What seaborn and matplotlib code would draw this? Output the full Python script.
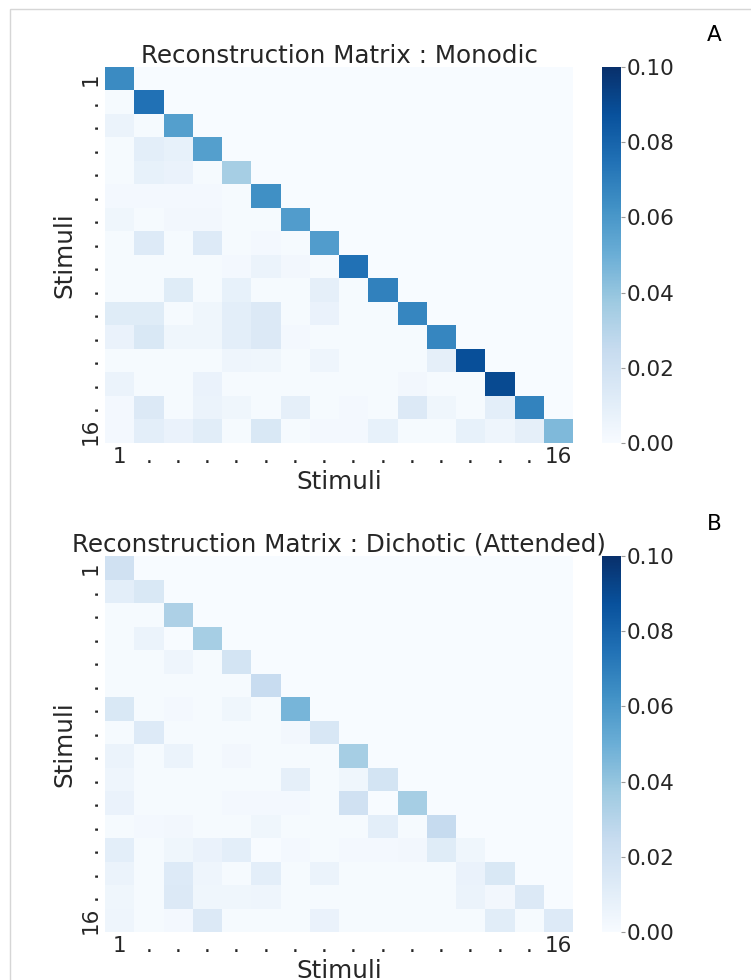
import numpy as np
import pandas as pd
import seaborn as sns
import matplotlib
matplotlib.use("Agg")
import matplotlib.pyplot as plt
from matplotlib.patches import Rectangle

# lower triangle of each reconstruction matrix (row i holds columns 1..i)
monodic_rows = [
    [0.065],
    [0.001, 0.075],
    [0.006, 0.001, 0.057],
    [0.001, 0.010, 0.008, 0.057],
    [0.001, 0.008, 0.007, 0.001, 0.035],
    [0.002, 0.002, 0.002, 0.002, 0.001, 0.063],
    [0.004, 0.001, 0.003, 0.003, 0.001, 0.001, 0.058],
    [0.001, 0.013, 0.001, 0.013, 0.001, 0.002, 0.001, 0.058],
    [0.001, 0.001, 0.001, 0.001, 0.002, 0.006, 0.003, 0.001, 0.075],
    [0.001, 0.001, 0.012, 0.001, 0.008, 0.001, 0.001, 0.009, 0.001, 0.069],
    [0.012, 0.012, 0.001, 0.004, 0.010, 0.014, 0.001, 0.007, 0.001, 0.001, 0.067],
    [0.007, 0.015, 0.004, 0.004, 0.010, 0.014, 0.002, 0.001, 0.001, 0.001, 0.001, 0.067],
    [0.001, 0.001, 0.001, 0.001, 0.005, 0.004, 0.001, 0.005, 0.001, 0.001, 0.001, 0.009, 0.088],
    [0.006, 0.001, 0.001, 0.007, 0.001, 0.001, 0.001, 0.001, 0.001, 0.001, 0.003, 0.001, 0.001, 0.090],
    [0.002, 0.014, 0.001, 0.006, 0.004, 0.001, 0.009, 0.001, 0.002, 0.001, 0.014, 0.004, 0.001, 0.010, 0.068],
    [0.002, 0.010, 0.007, 0.011, 0.001, 0.015, 0.001, 0.002, 0.002, 0.008, 0.001, 0.001, 0.008, 0.005, 0.009, 0.045],
]

dichotic_rows = [
    [0.020],
    [0.010, 0.015],
    [0.001, 0.001, 0.033],
    [0.001, 0.006, 0.000, 0.035],
    [0.001, 0.001, 0.005, 0.001, 0.018],
    [0.001, 0.001, 0.001, 0.001, 0.001, 0.024],
    [0.015, 0.001, 0.002, 0.001, 0.004, 0.001, 0.047],
    [0.001, 0.013, 0.001, 0.001, 0.001, 0.001, 0.003, 0.016],
    [0.006, 0.001, 0.006, 0.001, 0.003, 0.001, 0.001, 0.001, 0.035],
    [0.005, 0.001, 0.001, 0.001, 0.001, 0.001, 0.009, 0.001, 0.004, 0.018],
    [0.007, 0.001, 0.001, 0.001, 0.002, 0.002, 0.002, 0.001, 0.020, 0.000, 0.035],
    [0.001, 0.002, 0.003, 0.001, 0.001, 0.004, 0.001, 0.001, 0.001, 0.010, 0.001, 0.025],
    [0.010, 0.001, 0.004, 0.007, 0.010, 0.000, 0.002, 0.001, 0.002, 0.002, 0.003, 0.012, 0.004],
    [0.006, 0.001, 0.013, 0.005, 0.001, 0.010, 0.001, 0.006, 0.001, 0.001, 0.001, 0.001, 0.007, 0.015],
    [0.004, 0.001, 0.014, 0.004, 0.004, 0.005, 0.001, 0.001, 0.001, 0.001, 0.001, 0.001, 0.006, 0.003, 0.014],
    [0.005, 0.001, 0.002, 0.014, 0.001, 0.001, 0.001, 0.007, 0.001, 0.001, 0.001, 0.001, 0.001, 0.011, 0.001, 0.013],
]

tick_labels = ["1"] + ["."] * 14 + ["16"]
titles = ["Reconstruction Matrix : Monodic", "Reconstruction Matrix : Dichotic (Attended)"]
panel_letters = ["A", "B"]
cbar_ticks = [0.00, 0.02, 0.04, 0.06, 0.08, 0.10]


def to_matrix(rows):
    n = len(rows)
    m = np.zeros((n, n))
    for i, r in enumerate(rows):
        m[i, :len(r)] = r
    return pd.DataFrame(m, index=tick_labels, columns=tick_labels)


sns.set_theme(style="white")
plt.rcParams["font.family"] = ["DejaVu Sans"]
plt.rcParams["text.color"] = ".15"
plt.rcParams["axes.labelcolor"] = ".15"
plt.rcParams["xtick.color"] = ".15"
plt.rcParams["ytick.color"] = ".15"

W, H = 751, 980
fig = plt.figure(figsize=(W / 100, H / 100), dpi=100)

# thin frame of the screenshot
fig.add_artist(Rectangle((10 / W, -0.1), 1.2, 1 - 9 / H + 0.1, transform=fig.transFigure,
                         fill=False, edgecolor="#d6d6d6", lw=1))

tops = [67, 556]
for k, rows in enumerate([monodic_rows, dichotic_rows]):
    top = tops[k]
    ax = fig.add_axes([105 / W, 1 - (top + 376) / H, 468 / W, 376 / H])
    cax = fig.add_axes([602 / W, 1 - (top + 376) / H, 19 / W, 376 / H])
    sns.heatmap(to_matrix(rows), ax=ax, cbar_ax=cax, cmap="Blues", vmin=0, vmax=0.1,
                cbar_kws={"ticks": cbar_ticks, "format": "%.2f"})
    ax.set_title(titles[k], fontsize=17.7, pad=3)
    ax.set_xlabel("Stimuli", fontsize=17.7, labelpad=2)
    ax.set_ylabel("Stimuli", fontsize=17.7, labelpad=3)
    ax.set_xticks(np.arange(16) + 0.5)
    ax.set_xticklabels(tick_labels, rotation=0, fontsize=15.5)
    ax.set_yticks(np.arange(16) + 0.5)
    ax.set_yticklabels(tick_labels, rotation=90, va="center", fontsize=15.5)
    ax.tick_params(length=0, pad=3)
    cax.tick_params(labelsize=15.5, length=3, width=0.8, color=".6", pad=1)
    fig.text(714 / W, 1 - (top - 32) / H, panel_letters[k], fontsize=15.5, ha="center", va="center",
             color="black")

fig.savefig("out.png", dpi=100)
